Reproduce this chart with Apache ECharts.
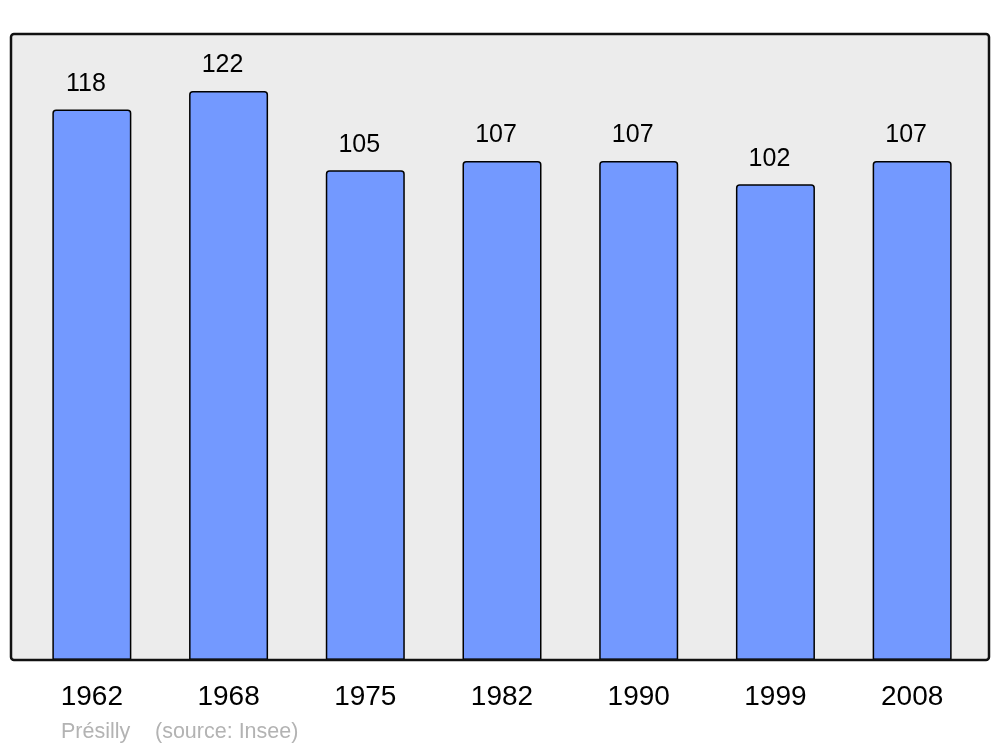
<!DOCTYPE html>
<html><head><meta charset="utf-8">
<script src="https://cdn.jsdelivr.net/npm/echarts@6/dist/echarts.min.js"></script>
<style>html,body{margin:0;padding:0;background:#fff}#c{width:1000px;height:747px}</style>
</head><body><div id="c"></div>
<script>
const years = ['1962','1968','1975','1982','1990','1999','2008'];
const population = [118,122,105,107,107,102,107];
const placeName = 'Présilly';
const sourceText = '(source: Insee)';

const chart = echarts.init(document.getElementById('c'), null, {renderer:'canvas'});
chart.setOption({
  animation:false,
  backgroundColor:'#ffffff',
  grid:{left:23.5, right:19.5, top:34, bottom:87, show:false},
  xAxis:{type:'category', data:years,
    axisLine:{show:false}, axisTick:{show:false},
    axisLabel:{color:'#000', fontSize:28, fontFamily:'Liberation Sans, Arial, sans-serif', margin:23}},
  yAxis:{type:'value', min:0, max:134.2, show:false, splitLine:{show:false}},
  graphic:[
    {type:'rect', shape:{x:11,y:34,width:978,height:626,r:3}, style:{fill:'#ececec',stroke:null}, z:-10, silent:true},
    {type:'rect', shape:{x:11,y:34,width:978,height:626,r:3}, style:{fill:null,stroke:'#111',lineWidth:2.5}, z:100, silent:true},
    {type:'text', left:61, top:721, style:{text:placeName, fill:'#b3b3b3', fontSize:21.5, fontFamily:'Liberation Sans, Arial, sans-serif'}},
    {type:'text', left:155, top:721, style:{text:sourceText, fill:'#b3b3b3', fontSize:21.5, fontFamily:'Liberation Sans, Arial, sans-serif'}}
  ],
  series:[{type:'bar', data:population, barWidth:79,
    itemStyle:{color:'#7399ff', borderColor:'#000', borderWidth:1.5, borderRadius:[3,3,0,0]},
    label:{show:true, position:'top', distance:13, offset:[-6,0], color:'#000', fontSize:25, fontFamily:'Liberation Sans, Arial, sans-serif'}
  }]
});
</script></body></html>
